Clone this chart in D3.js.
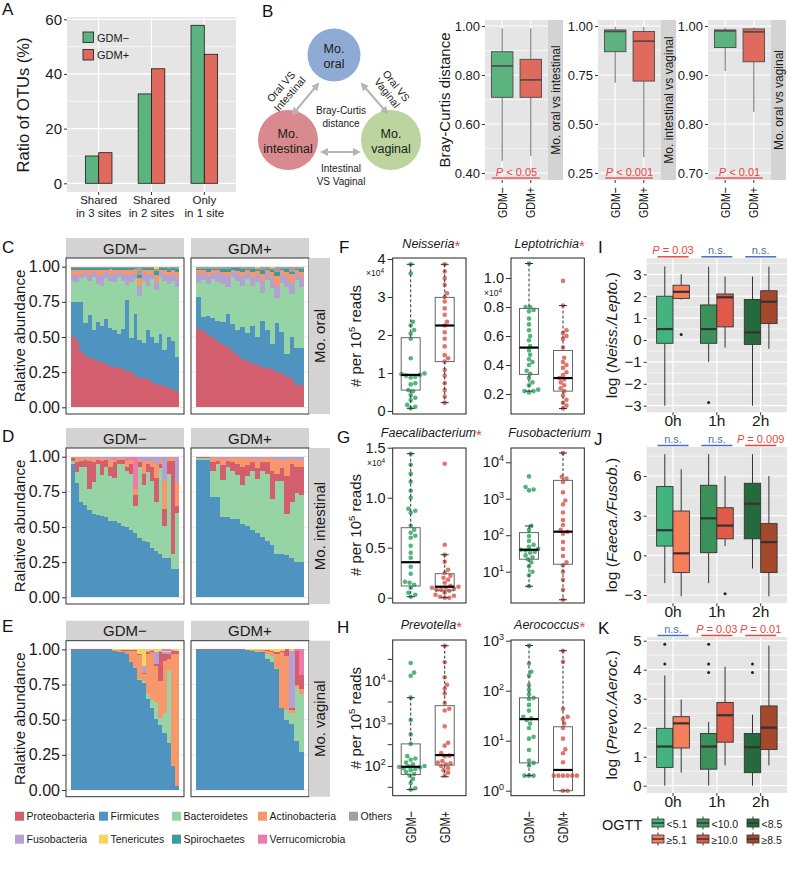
<html>
<head>
<meta charset="utf-8">
<script src="https://cdn.jsdelivr.net/npm/d3@7/dist/d3.min.js"></script>
<style>body{margin:0;background:#fff;}</style>
</head>
<body>
<script>
const FONT = '"Liberation Sans", Arial, Helvetica, sans-serif';
const PANEL = "#e5e5e5", STRIP = "#d3d3d3";
const C_NEG = "#5db37f", C_POS = "#e16a5e";
const DOT_NEG = "#55b47d", DOT_POS = "#e0766b";
const RED = "#e8473f", BLUE = "#4a6fb5";

// ---------- A: shared OTUs
const otuCats = [["Shared", "in 3 sites"], ["Shared", "in 2 sites"], ["Only", "in 1 site"]];
const otuNeg = [10.0, 32.7, 57.8];
const otuPos = [11.2, 41.9, 47.2];
const otuTicks = [0, 20, 40, 60];

// ---------- B: Bray-Curtis boxplots  [GDM-, GDM+]
const bcFacets = ["Mo. oral vs intestinal", "Mo. intestinal vs vaginal", "Mo. oral vs vaginal"];
const bcTicks = [[0.40, 0.60, 0.80, 1.00], [0.25, 0.50, 0.75, 1.00], [0.70, 0.80, 0.90, 1.00]];
const bcLow = [[0.45, 0.47], [0.71, 0.33], [0.908, 0.825]];
const bcQ1 = [[0.709, 0.709], [0.869, 0.719], [0.956, 0.927]];
const bcMed = [[0.837, 0.780], [0.972, 0.923], [0.990, 0.988]];
const bcQ3 = [[0.895, 0.864], [0.980, 0.972], [0.992, 0.994]];
const bcHigh = [[0.99, 0.99], [0.995, 0.995], [0.997, 0.997]];
const bcP = ["< 0.05", "< 0.001", "< 0.01"];

// ---------- C-E: phylum composition per sample
const phyla = ["Proteobacteria", "Firmicutes", "Bacteroidetes", "Actinobacteria", "Others",
  "Fusobacteria", "Tenericutes", "Spirochaetes", "Verrucomicrobia"];
const phylaColors = ["#d35f6e", "#4f94c1", "#97d4a5", "#f7976c", "#a0a0a0",
  "#b4a0d1", "#f3d460", "#3a9c9d", "#ee7aab"];

const oralOrder = ["Proteobacteria", "Firmicutes", "Bacteroidetes", "Fusobacteria", "Actinobacteria", "Spirochaetes", "Others", "Tenericutes"];
const oralNeg = [
  [0.51,0.47,0.40,0.37,0.35,0.34,0.33,0.32,0.31,0.30,0.29,0.28,0.27,0.26,0.25,0.23,0.22,0.21,0.20,0.18,0.17,0.16,0.15,0.14,0.13,0.11],
  [0.24,0.28,0.35,0.23,0.31,0.21,0.28,0.26,0.32,0.27,0.26,0.24,0.29,0.50,0.24,0.44,0.28,0.25,0.35,0.32,0.29,0.36,0.25,0.36,0.34,0.25],
  [0.14,0.14,0.17,0.33,0.24,0.38,0.27,0.28,0.29,0.34,0.34,0.41,0.34,0.11,0.40,0.25,0.33,0.44,0.31,0.41,0.38,0.41,0.49,0.37,0.43,0.50],
  [0.05,0.05,0.03,0.03,0.04,0.03,0.06,0.08,0.04,0.05,0.06,0.03,0.05,0.07,0.06,0.04,0.07,0.05,0.08,0.04,0.06,0.03,0.05,0.06,0.05,0.07],
  [0.04,0.04,0.03,0.02,0.04,0.02,0.04,0.04,0.02,0.03,0.03,0.02,0.03,0.04,0.03,0.03,0.06,0.03,0.04,0.03,0.05,0.02,0.03,0.03,0.03,0.04],
  [0.01,0.01,0.01,0.01,0.01,0.01,0.01,0.01,0.01,0.01,0.01,0.01,0.01,0.01,0.01,0.01,0.02,0.01,0.01,0.01,0.03,0.01,0.01,0.02,0.01,0.02],
  [0.005,0.005,0.005,0.005,0.005,0.005,0.005,0.005,0.005,0.005,0.005,0.005,0.005,0.005,0.005,0.005,0.06,0.005,0.005,0.005,0.01,0.005,0.005,0.01,0.005,0.01],
  [0.005,0.005,0.005,0.005,0.005,0.005,0.005,0.005,0.005,0.005,0.005,0.005,0.005,0.005,0.005,0.005,0.005,0.005,0.005,0.005,0.02,0.005,0.005,0.005,0.005,0.005]
];
const oralPos = [
  [0.555,0.54,0.52,0.50,0.47,0.45,0.43,0.40,0.37,0.34,0.33,0.32,0.30,0.29,0.28,0.27,0.25,0.24,0.22,0.21,0.16,0.16],
  [0.225,0.10,0.13,0.13,0.14,0.16,0.23,0.19,0.18,0.23,0.20,0.26,0.20,0.33,0.27,0.18,0.35,0.29,0.16,0.29,0.26,0.26],
  [0.10,0.26,0.23,0.28,0.28,0.27,0.19,0.34,0.35,0.29,0.39,0.29,0.39,0.20,0.35,0.40,0.18,0.35,0.48,0.30,0.48,0.43],
  [0.06,0.05,0.06,0.04,0.06,0.07,0.08,0.03,0.05,0.07,0.04,0.06,0.05,0.08,0.05,0.07,0.09,0.06,0.07,0.08,0.05,0.07],
  [0.03,0.02,0.03,0.02,0.02,0.02,0.03,0.02,0.02,0.03,0.02,0.04,0.03,0.05,0.02,0.04,0.07,0.03,0.04,0.06,0.02,0.04],
  [0.01,0.01,0.02,0.01,0.01,0.02,0.02,0.01,0.02,0.02,0.01,0.02,0.01,0.03,0.01,0.02,0.03,0.01,0.02,0.02,0.01,0.02],
  [0.01,0.01,0.01,0.01,0.01,0.01,0.01,0.005,0.005,0.01,0.01,0.01,0.01,0.02,0.01,0.01,0.03,0.01,0.01,0.03,0.01,0.01],
  [0.005,0.005,0.005,0.005,0.005,0.005,0.005,0.005,0.005,0.005,0.005,0.005,0.01,0.005,0.005,0.01,0.005,0.005,0.005,0.005,0.005,0.005]
];

const gutOrder = ["Firmicutes", "Bacteroidetes", "Proteobacteria", "Actinobacteria", "Verrucomicrobia", "Fusobacteria"];
const gutNeg = [
  [0.95,0.81,0.68,0.66,0.62,0.59,0.585,0.58,0.57,0.54,0.54,0.53,0.51,0.50,0.48,0.45,0.42,0.40,0.39,0.35,0.33,0.31,0.28,0.28,0.20,0.20],
  [0.02,0.08,0.25,0.27,0.15,0.23,0.365,0.29,0.36,0.32,0.31,0.42,0.44,0.40,0.40,0.19,0.51,0.40,0.50,0.48,0.35,0.61,0.23,0.60,0.11,0.40],
  [0.02,0.07,0.04,0.05,0.20,0.14,0.03,0.10,0.05,0.07,0.11,0.03,0.03,0.03,0.07,0.08,0.03,0.08,0.06,0.10,0.17,0.03,0.12,0.09,0.66,0.05],
  [0.01,0.03,0.02,0.01,0.02,0.03,0.01,0.02,0.01,0.05,0.02,0.01,0.01,0.04,0.03,0.04,0.02,0.08,0.03,0.04,0.10,0.03,0.20,0.02,0.02,0.17],
  [0,0,0,0,0,0,0,0,0,0,0.01,0,0,0.02,0.02,0.23,0,0,0,0,0,0,0,0,0,0],
  [0,0.01,0.01,0.01,0.01,0.01,0.01,0.01,0.01,0.02,0.01,0.01,0.01,0.01,0,0,0.02,0.04,0.02,0.03,0.05,0.02,0.17,0.01,0.01,0.18]
];
const gutPos = [
  [0.98,0.98,0.98,0.71,0.71,0.58,0.57,0.56,0.56,0.52,0.51,0.48,0.46,0.43,0.40,0.37,0.31,0.31,0.30,0.28,0.25,0.25],
  [0.01,0.01,0.01,0.19,0.24,0.26,0.36,0.34,0.31,0.28,0.35,0.42,0.38,0.47,0.48,0.33,0.52,0.52,0.29,0.40,0.49,0.48],
  [0.005,0.005,0.005,0.06,0.02,0.11,0.04,0.06,0.08,0.13,0.08,0.06,0.08,0.06,0.08,0.20,0.05,0.09,0.27,0.27,0.19,0.20],
  [0.005,0.005,0.005,0.03,0.02,0.04,0.02,0.03,0.04,0.06,0.05,0.03,0.06,0.03,0.03,0.09,0.10,0.06,0.12,0.04,0.05,0.05],
  [0,0,0,0,0,0.01,0,0,0,0,0,0,0,0,0,0,0,0,0,0,0,0],
  [0,0,0,0.01,0.01,0.01,0.01,0.01,0.01,0.01,0.01,0.01,0.02,0.01,0.01,0.01,0.02,0.02,0.02,0.01,0.02,0.02]
];

const vagOrder = ["Firmicutes", "Bacteroidetes", "Actinobacteria", "Proteobacteria", "Fusobacteria", "Tenericutes", "Verrucomicrobia"];
const vagNeg = [
  [0.998,0.998,0.998,0.998,0.998,0.997,0.997,0.996,0.995,0.994,0.99,0.985,0.98,0.97,0.91,0.87,0.78,0.76,0.65,0.58,0.50,0.46,0.41,0.34,0.17,0.03],
  [0,0,0,0,0,0,0,0,0,0,0,0,0,0,0,0,0.01,0.01,0.03,0.06,0.12,0.05,0.14,0.52,0,0],
  [0.001,0.001,0.001,0.001,0.001,0.002,0.002,0.003,0.004,0.005,0.008,0.01,0.012,0.02,0.08,0.12,0.17,0.05,0.29,0.34,0.25,0.26,0.38,0.08,0.80,0.94],
  [0.001,0.001,0.001,0.001,0.001,0.001,0.001,0.001,0.001,0.001,0.001,0.002,0.003,0.005,0.005,0.005,0.01,0.005,0.01,0.01,0.02,0.20,0.05,0.04,0.02,0.02],
  [0,0,0,0,0,0,0,0,0,0,0,0,0,0,0,0,0,0.05,0.01,0.005,0.08,0.01,0.01,0.01,0.005,0],
  [0,0,0,0,0,0,0,0,0,0,0.001,0.003,0.005,0.005,0.005,0.005,0.03,0.12,0.01,0.005,0.02,0.01,0.01,0.01,0.005,0.01],
  [0,0,0,0,0,0,0,0,0,0,0,0,0,0,0,0,0,0,0,0,0,0,0.01,0.01,0,0]
];
const vagPos = [
  [0.998,0.998,0.998,0.998,0.997,0.997,0.996,0.996,0.995,0.994,0.993,0.99,0.985,0.98,0.93,0.91,0.86,0.58,0.50,0.47,0.35,0.27],
  [0,0,0,0,0,0,0,0,0,0,0,0,0.003,0.004,0.04,0.04,0.01,0,0.07,0.08,0.38,0.41],
  [0.001,0.001,0.001,0.001,0.002,0.002,0.003,0.003,0.004,0.004,0.005,0.006,0.008,0.01,0.02,0.03,0.10,0.40,0.38,0.02,0.02,0.04],
  [0.001,0.001,0.001,0.001,0.001,0.001,0.001,0.001,0.001,0.001,0.001,0.002,0.002,0.003,0.005,0.01,0.01,0.01,0.05,0.01,0.24,0.10],
  [0,0,0,0,0,0,0,0,0,0,0,0,0,0,0,0,0,0,0,0.41,0,0],
  [0,0,0,0,0,0,0,0,0,0,0.001,0.002,0.002,0.003,0.005,0.01,0.02,0.01,0,0.01,0,0],
  [0,0,0,0,0,0,0,0,0,0,0,0,0,0,0,0,0,0,0,0,0.01,0.18]
];

// ---------- F-H: per 10^5 reads  (stats: [low, q1, median, q3, high])
const neisNeg = [3.86,3.62,2.35,2.25,2.13,2.04,1.9,1.39,0.99,0.97,0.95,0.93,0.9,0.88,0.73,0.7,0.55,0.52,0.42,0.35,0.29,0.16,0.11,0.07];
const neisPos = [3.86,3.67,3.49,3.32,3.10,3.0,2.88,2.70,2.53,2.35,2.25,2.07,1.90,1.70,1.47,1.39,1.30,1.08,0.93,0.73,0.55,0.38,0.22];
const neisStats = [[0.07,0.55,0.95,1.93,3.86], [0.22,1.30,2.25,2.99,3.86]];
const leptoNeg = [1.10,0.80,0.80,0.78,0.77,0.72,0.68,0.64,0.60,0.57,0.53,0.50,0.47,0.44,0.42,0.40,0.36,0.34,0.31,0.28,0.26,0.23,0.22,0.22,0.21];
const leptoPos = [0.98,0.81,0.64,0.62,0.60,0.58,0.52,0.45,0.42,0.40,0.38,0.35,0.33,0.31,0.30,0.28,0.26,0.24,0.22,0.19,0.16,0.14,0.12,0.10];
const leptoStats = [[0.22,0.335,0.52,0.79,1.10], [0.10,0.22,0.31,0.50,0.81]];
const faecNeg = [1.44,1.33,1.24,1.16,1.07,1.00,0.89,0.87,0.85,0.72,0.68,0.65,0.62,0.60,0.52,0.45,0.40,0.31,0.24,0.16,0.15,0.13,0.10,0.05,0.03,0.01];
const faecPos = [1.34,0.53,0.43,0.36,0.28,0.25,0.22,0.20,0.18,0.15,0.12,0.11,0.10,0.10,0.09,0.08,0.08,0.07,0.05,0.03,0.02,0.01,0.0,0.0];
const faecStats = [[0.01,0.117,0.355,0.70,1.44], [0.0,0.07,0.11,0.24,0.43]];
const fusoNeg = [4100,2100,1800,1700,180,140,95,70,55,48,42,40,38,35,33,28,25,22,18,14,10,8,4];
const fusoPos = [18000,4000,3600,2900,1500,900,700,420,260,190,140,125,110,65,42,27,18,15,10,6,3.2,1.7];
const fusoStats = [[4,22,40,118,180], [1.7,16,125,3200,18000]];
const prevNeg = [26000,15500,13000,4000,1200,550,330,170,150,140,120,110,100,98,95,92,88,85,80,72,65,60,50,40,30,28];
const prevPos = [66000,27000,12000,8000,6500,5000,3000,2200,2000,850,350,300,200,175,170,130,120,115,110,100,90,80,70,60];
const prevStats = [[28,63,96,330,4000], [56,105,180,2600,66000]];
const aeroNeg = [800,350,240,200,130,105,85,72,68,52,40,30,28,26,22,18,12,11,6.5,4,3.6,3.2,2,2,2];
const aeroPos = [630,380,43,30,27,22,18,11,6.7,5.6,3.7,2,2,2,2,2,2,1,1];
const aeroStats = [[2,3.6,27,72,800], [1,1,2.6,19,630]];

// ---------- I-K: log ratios by OGTT time  [time][GDM-, GDM+] -> [low, q1, median, q3, high]
const ogttTimes = ["0h", "1h", "2h"];
const ogttNegLabels = ["<5.1", "<10.0", "<8.5"];
const ogttPosLabels = ["\u22655.1", "\u226510.0", "\u22658.5"];
const ogttNegColors = ["#44b47f", "#3a9159", "#246a3d"];
const ogttPosColors = ["#f57f5b", "#e05a49", "#a5492c"];
const nlStats = [[[-3.0,-0.15,0.5,2.0,3.36], [1.85,1.9,2.2,2.5,3.0]],
  [[-1.0,-0.15,0.5,1.6,3.35], [-0.35,0.6,1.95,2.1,2.9]],
  [[-3.0,-0.2,0.35,1.85,2.9], [-0.4,0.75,1.75,2.25,3.35]]];
const nlOut = [[[], [0.25]], [[-2.85], []], [[], []]];
const nlNotes = ["P = 0.03", "n.s.", "n.s."];
const ffStats = [[[-2.1,0.7,1.9,5.2,7.65], [-3.1,-1.3,0.15,3.35,6.5]],
  [[-2.1,0.2,2.8,5.3,7.65], [0.7,1.25,2.25,3.6,6.0]],
  [[-1.0,1.25,3.9,5.45,7.65], [-3.1,-1.3,1.0,2.4,6.0]]];
const ffOut = [[[], []], [[], [-2.9]], [[], []]];
const ffNotes = ["n.s.", "n.s.", "P = 0.009"];
const paStats = [[[0,0.63,1.35,1.98,3.8], [0.45,1.3,2.15,2.38,2.97]],
  [[0,0.57,1.35,1.8,2.2], [0.7,1.5,2.43,2.87,4.1]],
  [[0,0.45,1.33,1.8,2.45], [0.7,1.25,2.0,2.75,4.83]]];
const paOut = [[[4.88,4.2], []], [[4.88,4.2,3.9], []], [[4.2,3.9], []]];
const paNotes = ["n.s.", "P = 0.03", "P = 0.01"];

// ================= drawing helpers
const svg = d3.select("body").append("svg").attr("width", 787).attr("height", 869)
  .attr("font-family", FONT);
svg.append("rect").attr("width", 787).attr("height", 869).attr("fill", "#fff");

const defs = svg.append("defs");
defs.append("marker").attr("id", "arr").attr("viewBox", "0 0 8 8").attr("refX", 6).attr("refY", 4)
  .attr("markerWidth", 4).attr("markerHeight", 4).attr("orient", "auto-start-reverse")
  .append("path").attr("d", "M0,0 L8,4 L0,8 Z").attr("fill", "#b5b5b5");

function txt(g, x, y, s, size, anchor, fill) {
  return g.append("text").attr("x", x).attr("y", y).attr("font-size", size)
    .attr("text-anchor", anchor || "start").attr("fill", fill || "#1a1a1a").text(s);
}
function vtxt(g, x, y, s, size, anchor) {
  return g.append("text").attr("transform", `translate(${x},${y}) rotate(-90)`)
    .attr("font-size", size).attr("text-anchor", anchor || "middle").attr("fill", "#1a1a1a").text(s);
}
function txt2(g, x, y, lines, size, lh) {
  const t = g.append("text").attr("x", x).attr("y", y).attr("font-size", size)
    .attr("text-anchor", "middle").attr("fill", "#1a1a1a");
  lines.forEach((s, i) => t.append("tspan").attr("x", x).attr("dy", i ? lh : 0).text(s));
  return t;
}
function gridH(g, x0, x1, ys, w) {
  g.append("g").selectAll("line").data(ys).join("line")
    .attr("x1", x0).attr("x2", x1).attr("y1", d => d).attr("y2", d => d)
    .attr("stroke", "#fff").attr("stroke-width", w);
}
function gridV(g, y0, y1, xs, w) {
  g.append("g").selectAll("line").data(xs).join("line")
    .attr("y1", y0).attr("y2", y1).attr("x1", d => d).attr("x2", d => d)
    .attr("stroke", "#fff").attr("stroke-width", w);
}
function yAxis(g, x, scale, ticks, fmt, size, len) {
  const a = g.append("g").attr("transform", `translate(${x},0)`)
    .call(d3.axisLeft(scale).tickValues(ticks).tickFormat(fmt).tickSize(len || 3).tickPadding(2));
  a.attr("font-family", FONT).attr("font-size", size);
  a.select(".domain").remove();
  a.selectAll(".tick line").attr("stroke", "#333");
  a.selectAll(".tick text").attr("fill", "#1a1a1a");
  return a;
}
function supLabels(a) {
  a.selectAll(".tick text").each(function (d) {
    const t = d3.select(this).text(null);
    t.append("tspan").text("10");
    t.append("tspan").attr("dy", -6).attr("font-size", 9).text(Math.round(Math.log10(d)));
  });
}
function ggBox(g, cx, bw, s, fill, y, wStroke, bStroke, medW) {
  g.append("line").attr("x1", cx).attr("x2", cx).attr("y1", y(s[4])).attr("y2", y(s[3]))
    .attr("stroke", wStroke).attr("stroke-width", 1);
  g.append("line").attr("x1", cx).attr("x2", cx).attr("y1", y(s[1])).attr("y2", y(s[0]))
    .attr("stroke", wStroke).attr("stroke-width", 1);
  g.append("rect").attr("x", cx - bw / 2).attr("y", y(s[3])).attr("width", bw)
    .attr("height", Math.max(0.5, y(s[1]) - y(s[3]))).attr("fill", fill)
    .attr("stroke", bStroke).attr("stroke-width", 0.9);
  g.append("line").attr("x1", cx - bw / 2).attr("x2", cx + bw / 2).attr("y1", y(s[2])).attr("y2", y(s[2]))
    .attr("stroke", bStroke).attr("stroke-width", medW);
}
function pLabel(g, x, y, s, size, anchor, color) {
  const t = g.append("text").attr("x", x).attr("y", y).attr("font-size", size)
    .attr("text-anchor", anchor || "middle").attr("fill", color);
  if (s.startsWith("P")) {
    t.append("tspan").attr("font-style", "italic").text("P");
    t.append("tspan").text(s.slice(1));
  } else t.text(s);
  return t;
}
function swarm(vals, y, cx, r) {
  const pts = vals.map(v => ({ v, y: y(v) })).sort((a, b) => b.y - a.y);
  const placed = [];
  pts.forEach(p => {
    for (let k = 0; k < 60; k++) {
      const x = cx + (k % 2 ? 1 : -1) * Math.ceil(k / 2) * r * 0.5;
      if (placed.every(q => (q.x - x) ** 2 + (q.y - p.y) ** 2 >= (1.9 * r) ** 2)) { p.x = x; break; }
    }
    placed.push(p);
  });
  return placed;
}
function panelLetter(x, y, s) { txt(svg, x, y, s, 17, "start", "#111"); }

// ================= A
(function () {
  const g = svg.append("g");
  const L = 67, R = 236, T = 17, B = 192;
  const x = d3.scalePoint().domain(d3.range(otuCats.length)).range([L, R]).padding(0.6);
  const y = d3.scaleLinear().domain([0, 60]).range([183.3, 19.3]);
  g.append("rect").attr("x", L).attr("y", T).attr("width", R - L).attr("height", B - T).attr("fill", PANEL);
  gridH(g, L, R, d3.pairs(otuTicks).map(p => y((p[0] + p[1]) / 2)), 0.6);
  gridH(g, L, R, otuTicks.map(y), 1.2);
  gridV(g, T, B, d3.range(3).map(x), 1.2);
  const bw = 13.3;
  const bars = otuNeg.map((v, i) => ({ i, v, k: 0 })).concat(otuPos.map((v, i) => ({ i, v, k: 1 })));
  g.selectAll(".bar").data(bars).join("rect").attr("class", "bar")
    .attr("x", d => x(d.i) - bw + d.k * bw).attr("y", d => y(d.v))
    .attr("width", bw).attr("height", d => y(0) - y(d.v))
    .attr("fill", d => d.k ? C_POS : C_NEG).attr("stroke", "#1a1a1a").attr("stroke-width", 0.8);
  yAxis(g, L, y, otuTicks, d3.format("d"), 15);
  otuCats.forEach((c, i) => {
    g.append("line").attr("x1", x(i)).attr("x2", x(i)).attr("y1", B).attr("y2", B + 3).attr("stroke", "#333");
    txt2(g, x(i), 203.5, c, 11.5, 13);
  });
  vtxt(g, 29, 105, "Ratio of OTUs (%)", 16.5);
  [["GDM\u2212", C_NEG], ["GDM+", C_POS]].forEach((d, k) => {
    g.append("rect").attr("x", 83).attr("y", 32 + k * 17.5).attr("width", 10.5).attr("height", 10.5)
      .attr("fill", d[1]).attr("stroke", "#1a1a1a").attr("stroke-width", 0.8);
    txt(g, 97, 41.5 + k * 17.5, d[0], 11);
  });
  panelLetter(2, 15, "A");
})();

// ================= B: diagram
(function () {
  const g = svg.append("g");
  const circles = [
    { cx: 334, cy: 55, r: 26.5, fill: "#8fabd3", l: ["Mo.", "oral"] },
    { cx: 288, cy: 140, r: 30, fill: "#d98a8e", l: ["Mo.", "intestinal"] },
    { cx: 391, cy: 140, r: 30, fill: "#bcd59f", l: ["Mo.", "vaginal"] }
  ];
  circles.forEach(c => {
    g.append("circle").attr("cx", c.cx).attr("cy", c.cy).attr("r", c.r).attr("fill", c.fill);
    txt2(g, c.cx, c.cy - 2, c.l, 12.5, 15);
  });
  [[318, 84, 293, 114], [362, 84, 387, 113], [322, 152, 359, 152]].forEach(a => {
    g.append("line").attr("x1", a[0]).attr("y1", a[1]).attr("x2", a[2]).attr("y2", a[3])
      .attr("stroke", "#b5b5b5").attr("stroke-width", 2)
      .attr("marker-start", "url(#arr)").attr("marker-end", "url(#arr)");
  });
  const l1 = g.append("g").attr("transform", "translate(286,91) rotate(-49)");
  txt2(l1, 0, -3, ["Oral VS", "Intestinal"], 10.5, 11.5);
  const l2 = g.append("g").attr("transform", "translate(391,90) rotate(52)");
  txt2(l2, 0, -3, ["Oral VS", "Vaginal"], 10.5, 11.5);
  txt2(g, 341, 114, ["Bray-Curtis", "distance"], 10, 13);
  txt2(g, 341, 172, ["Intestinal", "VS Vaginal"], 10, 13);
  panelLetter(262, 17, "B");
})();

// ================= B: boxplots
(function () {
  const g = svg.append("g");
  const lefts = [485, 598, 708];
  const T = 20, B = 180, PW = 63, SW = 15;
  bcFacets.forEach((name, f) => {
    const x0 = lefts[f], x1 = x0 + PW;
    const ticks = bcTicks[f];
    const y = d3.scaleLinear().domain(d3.extent(ticks)).range([173, 26]);
    const x = d3.scalePoint().domain([0, 1]).range([x0, x1]).padding(0.6);
    g.append("rect").attr("x", x0).attr("y", T).attr("width", PW).attr("height", B - T).attr("fill", PANEL);
    gridH(g, x0, x1, d3.pairs(ticks).map(p => y((p[0] + p[1]) / 2)), 0.6);
    gridH(g, x0, x1, ticks.map(y), 1.2);
    gridV(g, T, B, [x(0), x(1)], 1.2);
    [0, 1].forEach(k => {
      ggBox(g, x(k), 21.5, [bcLow[f][k], bcQ1[f][k], bcMed[f][k], bcQ3[f][k], bcHigh[f][k]],
        k ? C_POS : C_NEG, y, "#6b6b6b", "#4a4a4a", 1.6);
      g.append("line").attr("x1", x(k)).attr("x2", x(k)).attr("y1", B).attr("y2", B + 3).attr("stroke", "#333");
      const t = vtxt(g, x(k) + 4.5, 187, k ? "GDM+" : "GDM\u2212", 13.5, "end");
      t.attr("textLength", 31).attr("lengthAdjust", "spacingAndGlyphs");
    });
    yAxis(g, x0, y, ticks, d3.format(".2f"), 13);
    g.append("rect").attr("x", x1).attr("y", T).attr("width", SW).attr("height", B - T).attr("fill", STRIP);
    vtxt(g, x1 + SW / 2 + 4.3, (T + B) / 2, name, 12);
    pLabel(g, (x0 + x1) / 2, 175.5, "P " + bcP[f], 11, "middle", RED);
    g.append("line").attr("x1", x(0) - 10).attr("x2", x(1) + 9).attr("y1", 178).attr("y2", 178)
      .attr("stroke", "#ee7b78").attr("stroke-width", 1.8);
  });
  vtxt(g, 450, 100, "Bray-Curtis distance", 15);
})();

// ================= C-E: stacked compositions
function stackPanel(top, order, neg, pos, facet) {
  const g = svg.append("g");
  const pTop = top, pBot = top + 156;
  const y = d3.scaleLinear().domain([0, 1]).range([pBot - 6.7, pTop + 8.7]);
  [[66, neg, "GDM\u2212"], [191, pos, "GDM+"]].forEach(([x0, vals, lab]) => {
    const n = vals[0].length;
    const rows = d3.range(n).map(j => Object.fromEntries(order.map((k, i) => [k, vals[i][j]])));
    const series = d3.stack().keys(order).offset(d3.stackOffsetExpand)(rows);
    const x = d3.scaleBand().domain(d3.range(n)).range([x0 + 4.7, x0 + 113]);
    g.append("rect").attr("x", x0).attr("y", pTop - 20).attr("width", 118).attr("height", 20).attr("fill", STRIP);
    txt(g, x0 + 59, pTop - 4.5, lab, 15, "middle");
    g.append("rect").attr("x", x0).attr("y", pTop).attr("width", 118).attr("height", 156).attr("fill", "#fff");
    g.append("g").selectAll("line").data([0, 0.25, 0.5, 0.75, 1]).join("line")
      .attr("x1", x0).attr("x2", x0 + 118).attr("y1", d => y(d)).attr("y2", d => y(d))
      .attr("stroke", "#e6e6e6").attr("stroke-width", 1);
    g.append("g").attr("shape-rendering", "crispEdges").selectAll("g").data(series).join("g")
      .attr("fill", s => phylaColors[phyla.indexOf(s.key)])
      .selectAll("rect").data(s => s).join("rect")
      .attr("x", (d, j) => x(j)).attr("width", x.bandwidth() + 0.4)
      .attr("y", d => y(d[1])).attr("height", d => Math.max(0, y(d[0]) - y(d[1])));
    g.append("rect").attr("x", x0).attr("y", pTop).attr("width", 118).attr("height", 156)
      .attr("fill", "none").attr("stroke", "#333").attr("stroke-width", 1);
  });
  g.append("rect").attr("x", 309).attr("y", pTop).attr("width", 21).attr("height", 156).attr("fill", STRIP);
  vtxt(g, 319.5 + 5.3, (pTop + pBot) / 2, facet, 15);
  yAxis(g, 66, y, [0, 0.25, 0.5, 0.75, 1], d3.format(".2f"), 16, 4);
  vtxt(g, 25, (pTop + pBot) / 2, "Ralative abundance", 15);
}
stackPanel(258, oralOrder, oralNeg, oralPos, "Mo. oral");
stackPanel(448, gutOrder, gutNeg, gutPos, "Mo. intestinal");
stackPanel(640.7, vagOrder, vagNeg, vagPos, "Mo. vaginal");
panelLetter(2, 253, "C");
panelLetter(2, 442, "D");
panelLetter(2, 632, "E");

// phylum legend
(function () {
  const g = svg.append("g");
  const rows = [["Proteobacteria", "Firmicutes", "Bacteroidetes", "Actinobacteria", "Others"],
    ["Fusobacteria", "Tenericutes", "Spirochaetes", "Verrucomicrobia"]];
  const cols = [15, 99, 172, 258, 349];
  rows.forEach((r, ri) => r.forEach((name, ci) => {
    const yy = 811.7 + ri * 23;
    g.append("rect").attr("x", cols[ci]).attr("y", yy).attr("width", 9).attr("height", 9)
      .attr("fill", phylaColors[phyla.indexOf(name)]);
    txt(g, cols[ci] + 11.5, yy + 8.5, name, 10.5);
  }));
})();

// ================= F-H: dot + box panels
function dotPanel(c) {
  const g = svg.append("g");
  const W = 73.3;
  [c.neg, c.pos].forEach((vals, k) => {
    const cx = c.x0 + (k ? 52 : 18);
    const pts = swarm(vals, c.y, cx, 2.3);
    g.append("g").selectAll("circle").data(pts).join("circle")
      .attr("cx", d => d.x).attr("cy", d => d.y).attr("r", 2.3)
      .attr("fill", k ? DOT_POS : DOT_NEG);
    const s = c.stats[k], bw = 19;
    g.append("line").attr("x1", cx).attr("x2", cx).attr("y1", c.y(s[4])).attr("y2", c.y(s[3]))
      .attr("stroke", "#333").attr("stroke-dasharray", "3,2");
    g.append("line").attr("x1", cx).attr("x2", cx).attr("y1", c.y(s[1])).attr("y2", c.y(s[0]))
      .attr("stroke", "#333").attr("stroke-dasharray", "3,2");
    [s[0], s[4]].forEach(v => g.append("line").attr("x1", cx - 4).attr("x2", cx + 4)
      .attr("y1", c.y(v)).attr("y2", c.y(v)).attr("stroke", "#333"));
    g.append("rect").attr("x", cx - bw / 2).attr("y", c.y(s[3])).attr("width", bw)
      .attr("height", c.y(s[1]) - c.y(s[3])).attr("fill", "none").attr("stroke", "#666");
    g.append("line").attr("x1", cx - bw / 2).attr("x2", cx + bw / 2).attr("y1", c.y(s[2])).attr("y2", c.y(s[2]))
      .attr("stroke", "#000").attr("stroke-width", 2.2);
    if (c.xlab) {
      const t = vtxt(g, cx + 5, 811, k ? "GDM+" : "GDM\u2212", 15, "end");
      t.attr("textLength", 32).attr("lengthAdjust", "spacingAndGlyphs");
    }
  });
  g.append("rect").attr("x", c.x0).attr("y", c.top).attr("width", W).attr("height", c.bot - c.top)
    .attr("fill", "none").attr("stroke", "#222").attr("stroke-width", 1);
  const a = yAxis(g, c.x0, c.y, c.ticks, c.fmt || d3.format("d"), 14.5, 5);
  if (c.log) supLabels(a);
  if (c.minor) g.append("g").selectAll("line").data(c.minor).join("line")
    .attr("x1", c.x0 - 5).attr("x2", c.x0).attr("y1", d => c.y(d)).attr("y2", d => c.y(d)).attr("stroke", "#333");
  if (c.expo) {
    const t = g.append("text").attr("x", c.expo[0]).attr("y", c.expo[1]).attr("font-size", 8.5)
      .attr("text-anchor", "end").attr("fill", "#1a1a1a");
    t.append("tspan").text("\u00d710");
    t.append("tspan").attr("dy", -3).attr("font-size", 6.5).text("4");
  }
  const t = g.append("text").attr("x", c.x0 + W / 2 + 2).attr("y", c.titleY).attr("text-anchor", "middle")
    .attr("font-size", 12.5).attr("fill", "#1a1a1a");
  t.append("tspan").attr("font-style", "italic").text(c.title);
  if (c.star) t.append("tspan").attr("fill", RED).attr("font-size", 15).attr("dy", 3).text("*");
}
function readsTitle(cy) {
  const t = svg.append("text").attr("transform", `translate(360.5,${cy}) rotate(-90)`)
    .attr("text-anchor", "middle").attr("font-size", 15).attr("fill", "#1a1a1a");
  t.append("tspan").text("# per 10");
  t.append("tspan").attr("dy", -6).attr("font-size", 9.5).text("5");
  t.append("tspan").attr("dy", 6).text(" reads");
}
dotPanel({ x0: 392.7, top: 258, bot: 414, y: d3.scaleLinear().domain([0, 4]).range([411, 259]),
  ticks: [0, 1, 2, 3, 4], neg: neisNeg, pos: neisPos, stats: neisStats,
  title: "Neisseria", star: true, titleY: 247.5, expo: [384, 276] });
dotPanel({ x0: 511, top: 258, bot: 414, y: d3.scaleLinear().domain([0.2, 1.0]).range([394, 278]),
  ticks: [0.2, 0.4, 0.6, 0.8, 1.0], fmt: d3.format(".1f"), neg: leptoNeg, pos: leptoPos, stats: leptoStats,
  title: "Leptotrichia", star: true, titleY: 247.5, expo: [502, 296] });
dotPanel({ x0: 392.7, top: 448, bot: 603, y: d3.scaleLinear().domain([0, 1.5]).range([597.7, 447.7]),
  ticks: [0, 0.5, 1.0, 1.5], fmt: v => v === 0 ? "0" : d3.format(".1f")(v),
  neg: faecNeg, pos: faecPos, stats: faecStats,
  title: "Faecalibacterium", star: true, titleY: 437, expo: [385, 465.5] });
dotPanel({ x0: 511, top: 448, bot: 603, y: d3.scaleLog().domain([10, 10000]).range([571.7, 462.3]),
  ticks: [10, 100, 1000, 10000], log: true, neg: fusoNeg, pos: fusoPos, stats: fusoStats,
  title: "Fusobacterium", star: false, titleY: 437 });
dotPanel({ x0: 392.7, top: 640, bot: 795.7, y: d3.scaleLog().domain([100, 10000]).range([766, 680.7]),
  ticks: [100, 1000, 10000], log: true, minor: [Math.pow(10, 1.5), Math.pow(10, 2.5), Math.pow(10, 3.5), Math.pow(10, 4.5)],
  neg: prevNeg, pos: prevPos, stats: prevStats, title: "Prevotella", star: true, titleY: 629, xlab: true });
dotPanel({ x0: 511, top: 640, bot: 795.7, y: d3.scaleLog().domain([1, 1000]).range([790.7, 640.7]),
  ticks: [1, 10, 100, 1000], log: true, neg: aeroNeg, pos: aeroPos, stats: aeroStats,
  title: "Aerococcus", star: true, titleY: 629, xlab: true });
readsTitle(336);
readsTitle(525);
readsTitle(718);
panelLetter(339, 253, "F");
panelLetter(337, 443, "G");
panelLetter(337, 633, "H");

// ================= I-K: log ratio boxplots
function ratioPanel(c) {
  const g = svg.append("g");
  const L = 646.7, R = 787;
  const x = d3.scalePoint().domain(ogttTimes).range([L, R]).padding(0.6);
  g.append("rect").attr("x", L).attr("y", c.top).attr("width", R - L).attr("height", c.bot - c.top).attr("fill", PANEL);
  const step = c.ticks[1] - c.ticks[0];
  const lo = c.y.invert(c.bot), hi = c.y.invert(c.top);
  const minors = c.ticks.map(t => t + step / 2).concat([c.ticks[0] - step / 2]).filter(v => v > lo && v < hi);
  gridH(g, L, R, minors.map(c.y), 0.6);
  gridH(g, L, R, c.ticks.map(c.y), 1.2);
  gridV(g, c.top, c.bot, ogttTimes.map(x), 1.2);
  ogttTimes.forEach((tm, i) => {
    [0, 1].forEach(k => {
      const cx = x(tm) + (k ? 8.2 : -8.2);
      ggBox(g, cx, 16.4, c.stats[i][k], k ? ogttPosColors[i] : ogttNegColors[i], c.y, "#333", "#333", 2.2);
      g.selectAll(null).data(c.out[i][k]).join("circle")
        .attr("cx", cx).attr("cy", d => c.y(d)).attr("r", 1.5).attr("fill", "#222");
    });
    g.append("line").attr("x1", x(tm)).attr("x2", x(tm)).attr("y1", c.bot).attr("y2", c.bot + 3).attr("stroke", "#333");
    txt(g, x(tm), c.bot + 14, tm, 15.5, "middle");
    const col = c.notes[i].startsWith("P") ? RED : BLUE;
    pLabel(g, x(tm), c.top - 4.5, c.notes[i], 11, "middle", col);
    g.append("line").attr("x1", x(tm) - 15.5).attr("x2", x(tm) + 15.5)
      .attr("y1", c.top - 1.5).attr("y2", c.top - 1.5).attr("stroke", col).attr("stroke-width", 1.5);
  });
  yAxis(g, L, c.y, c.ticks, d3.format("d"), 15);
  const t = g.append("text").attr("transform", `translate(617,${(c.top + c.bot) / 2}) rotate(-90)`)
    .attr("text-anchor", "middle").attr("font-size", 15.5).attr("fill", "#1a1a1a");
  t.append("tspan").text("log (");
  t.append("tspan").attr("font-style", "italic").text(c.title);
  t.append("tspan").text(")");
}
ratioPanel({ top: 258.3, bot: 412.3, y: d3.scaleLinear().domain([-3, 3]).range([405.7, 274.3]),
  ticks: [-3, -2, -1, 0, 1, 2, 3], stats: nlStats, out: nlOut, notes: nlNotes, title: "Neiss./Lepto." });
ratioPanel({ top: 447, bot: 603.3, y: d3.scaleLinear().domain([-3, 6]).range([595, 476]),
  ticks: [-3, 0, 3, 6], stats: ffStats, out: ffOut, notes: ffNotes, title: "Faeca./Fusob." });
ratioPanel({ top: 637, bot: 793, y: d3.scaleLinear().domain([0, 5]).range([785.7, 640.7]),
  ticks: [0, 1, 2, 3, 4, 5], stats: paStats, out: paOut, notes: paNotes, title: "Prevo./Aeroc." });
panelLetter(598, 253, "I");
panelLetter(594, 445, "J");
panelLetter(598, 634, "K");

// OGTT legend
(function () {
  const g = svg.append("g");
  txt(g, 602, 830, "OGTT", 14.5);
  const cols = [652, 697, 747];
  ogttTimes.forEach((tm, i) => {
    [[ogttNegLabels[i], ogttNegColors[i]], [ogttPosLabels[i], ogttPosColors[i]]].forEach((d, r) => {
      const x0 = cols[i], y0 = 818 + r * 16;
      g.append("line").attr("x1", x0 + 6).attr("x2", x0 + 6).attr("y1", y0 - 1.5).attr("y2", y0 + 11.5).attr("stroke", "#333");
      g.append("rect").attr("x", x0).attr("y", y0 + 1).attr("width", 12).attr("height", 8)
        .attr("fill", d[1]).attr("stroke", "#333").attr("stroke-width", 0.8);
      g.append("line").attr("x1", x0).attr("x2", x0 + 12).attr("y1", y0 + 5).attr("y2", y0 + 5).attr("stroke", "#333").attr("stroke-width", 1.4);
      txt(g, x0 + 14.5, y0 + 9.5, d[0], 10.5);
    });
  });
})();
</script>
</body>
</html>
